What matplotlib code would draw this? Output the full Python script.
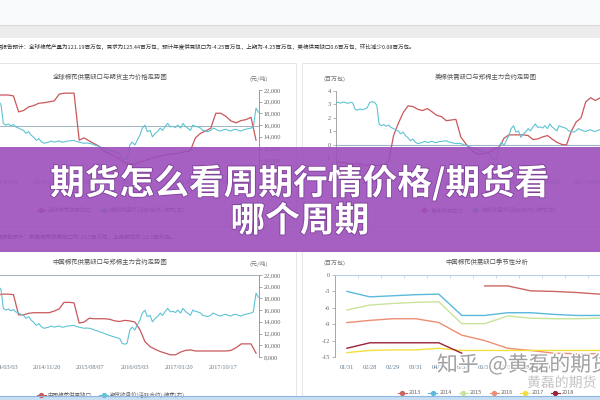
import matplotlib
matplotlib.use('Agg')
import matplotlib.pyplot as plt
import matplotlib.patheffects as pe
from matplotlib.patches import Rectangle
from matplotlib.lines import Line2D
from matplotlib.ticker import FuncFormatter
import numpy as np
import pandas as pd

plt.rcParams['font.family'] = ['Noto Sans CJK SC', 'DejaVu Sans']
plt.rcParams['axes.unicode_minus'] = False

# ---------------- datos ----------------
# precio del contrato activo (yuan/t), cada medio mes
price_dates = pd.date_range('2013-06-01', periods=120, freq='SMS')
price = [19950, 20050, 19900, 20100, 20000, 19850, 20050, 19950, 18800, 18700,
         18900, 18750, 18900, 19100, 20000, 20150, 20050, 19500, 16300, 16000,
         16200, 15900, 16100, 15700, 15500, 15300, 15100, 14600, 14900, 14300,
         13900, 13400, 13700, 13200, 12900, 13000, 13100, 13300, 13100, 13200,
         13300, 13100, 13100, 13250, 13300, 13350, 13400, 13200, 13100, 13000,
         12900, 12950, 12900, 12800, 12600, 12500, 12300, 12200, 12000, 11850,
         11700, 11550, 11400, 11300, 11100, 10300, 10200, 10300, 12600, 13100,
         12600, 13400, 14300, 15500, 16000, 14900, 15100, 14000, 14600, 14900,
         15500, 15100, 15800, 16300, 15700, 15800, 15600, 16000, 15500, 16300,
         15800, 15500, 15100, 16000, 15800, 15700, 15500, 15100, 15000, 14900,
         15100, 15500, 15300, 15100, 15000, 15200, 15300, 15100, 15000, 15200,
         15300, 15100, 15000, 15200, 15300, 15400, 15500, 15700, 18900, 18200]

# brechas mensuales de oferta/demanda (millones de pacas)
gap_dates = pd.date_range('2013-06-01', periods=60, freq='MS')
global_gap = [6.5, 6.6, 6.8, 6.9, 6.9, 6.9, 6.9, 6.9, 6.9, 6.9,
              6.9, 6.7, 3.2, 3.5, 4.3, 4.6, 5.1, 5.2, 5.4, 5.6,
              7.1, 7.3, 7.3, 7.3, -3.0, -2.5, -3.2, -3.8, -4.4, -5.5,
              -6.0, -6.5, -7.2, -8.0, -8.2, -8.3, -7.8, -7.5, -7.1, -6.8,
              -6.5, -6.3, -6.1, -6.0, -5.8, -5.5, -5.3, -2.5, -1.5, -1.0,
              -0.4, 2.9, 2.9, 2.2, 1.2, 0.8, 1.3, 1.5, 2.0, -3.0]
us_gap = [-1.2, -1.3, -1.3, -1.4, -1.4, -1.4, -1.5, -1.5, -1.5, -1.5,
          -1.5, -1.2, 0.7, 1.6, 2.4, 2.9, 2.85, 2.65, 2.55, 2.7,
          2.45, 2.2, 2.1, 1.8, 1.85, 1.9, 0.6, 0.1, -0.3, -0.6,
          -0.7, -0.6, -0.5, -0.3, -0.15, 0.5, 0.75, 0.75, 0.75, 0.75,
          0.7, 0.4, 0.45, 0.6, 0.7, 0.45, 0.2, 0.05, 0.0, 1.0,
          1.7, 2.0, 3.2, 3.5, 3.3, 3.5, 3.4, 3.3, 3.2, 3.1]
china_gap = [-2.0, -2.0, -3.0, -3.0, -3.2, -3.5, -3.7, -3.4, -3.6, -3.5,
             -3.5, -3.6, -7.3, -7.3, -7.0, -6.9, -6.9, -6.9, -6.9, -6.6,
             -6.2, -5.0, -5.0, -5.1, -8.8, -8.6, -7.9, -8.0, -8.0, -8.0,
             -8.1, -8.4, -8.5, -8.3, -8.4, -8.6, -10.0, -12.2, -13.1, -13.6,
             -14.0, -14.3, -14.6, -14.6, -14.1, -13.8, -13.7, -13.9, -13.9, -13.9,
             -13.9, -13.9, -13.9, -13.9, -13.8, -13.3, -12.6, -12.6, -12.6, -14.3]

left_ticks = ['2014-03-03', '2014-11-20', '2015-08-07', '2016-05-03', '2017-01-20', '2017-10-17']
right_ticks = ['2014-02-10', '2014-11-04', '2015-07-24', '2016-04-15', '2017-01-23', '2017-10-19']

# estacionalidad
season_labels = ['01/31', '02/28', '02/29', '03/31', '04/30', '05/31', '06/30',
                 '07/31', '08/31', '09/30', '10/31', '11/30', '12/31']
season_years = ['2013', '2014', '2015', '2016', '2017', '2018']
nan = np.nan
s2013 = [nan, nan, nan, nan, nan, nan, -2.0, -2.0, -2.9, -3.0, -3.2, -3.5, -3.7]
s2014 = [-3.0, -4.0, -3.8, -3.6, -3.5, -7.4, -7.4, -6.9, -6.9, -7.2, -7.4, -7.4, -7.4]
s2015 = [-6.4, -5.5, -5.2, -5.0, -4.9, -8.9, -8.9, -7.5, -7.9, -8.0, -8.0, -7.9, -7.9]
s2016 = [-8.7, -8.3, -8.0, -8.0, -8.7, -11.0, -12.0, -13.4, -13.8, -14.3, -14.4, -14.4, -14.4]
s2017 = [-14.2, -13.8, -13.7, -13.7, -13.4, -13.8, -13.8, -13.8, -13.8, -13.8, -13.8, -13.8, -13.8]
s2018 = [-13.4, -12.4, -12.4, -12.4, -12.4, -14.3, nan, nan, nan, nan, nan, nan, nan]
season_values = [s2013, s2014, s2015, s2016, s2017, s2018]
season_colors = ['#cc6660', '#5ab9dc', '#c9e39a', '#ec8e74', '#f3df3c', '#9b2238']

RED = '#c9585b'
CYAN = '#5fc3d3'
ZERO = '#9db5c2'
W, H = 600, 400


def box(x0, y0, x1, y1):
    return [x0 / W, 1 - y1 / H, (x1 - x0) / W, (y1 - y0) / H]


def fx(x):
    return x / W


def fy(y):
    return 1 - y / H


def rect(fig, x0, y0, x1, y1, fc, ec='none', lw=0, z=-5, alpha=1):
    fig.add_artist(Rectangle((fx(x0), fy(y1)), (x1 - x0) / W, (y1 - y0) / H,
                             transform=fig.transFigure, facecolor=fc, edgecolor=ec,
                             linewidth=lw, zorder=z, alpha=alpha))


def legend(fig, cx, cy, labels, colors):
    hs = [Line2D([], [], color=c, lw=0.8, marker='o', ms=2.8) for c in colors]
    fig.legend(hs, labels, loc='center', bbox_to_anchor=(fx(cx), fy(cy)), ncol=len(labels),
               frameon=False, fontsize=4, handlelength=1.6, handletextpad=0.4,
               columnspacing=1.3, labelcolor='#666666')


fig = plt.figure(figsize=(6, 4), dpi=100)
fig.patch.set_facecolor('white')

# franjas de la pagina y tarjetas
rect(fig, 0, 0, 600, 25, '#f8f9fb')
rect(fig, 0, 25, 600, 38, '#ececec')
fig.add_artist(Line2D([0, 1], [fy(25), fy(25)], color='#d9d6d0', lw=0.6, zorder=-4))
for x0, y0, x1, y1 in [(-2, 63, 296, 226), (302, 63, 603, 226), (-2, 250, 296, 396), (302, 250, 603, 396)]:
    rect(fig, x0, y0, x1, y1, 'white', ec='#e2e2e2', lw=0.6, z=-3)

fig.text(fx(-3), fy(47), '资报告预计：全球棉花产量为121.19百万包，需求为125.44百万包，预计年度供需缺口为-4.25百万包，'
         '上期为-4.25百万包，美棉供需缺口0.6百万包，环比减少0.08百万包。',
         fontsize=4.0, color='#333333', va='center')
fig.text(fx(-3), fy(236), '资报告预计：中国棉花供需缺口为-14.5百万包，上月预估为-12.5百万包。',
         fontsize=4.0, color='#333333', va='center')

xfmt = FuncFormatter(lambda v, p: f'{v:,.0f}')


def left_chart(y0, y1, gap, gap_lim, title, leg_label):
    ax = fig.add_axes(box(-42, y0, 259, y1))
    ax.patch.set_alpha(0)
    ax.plot(gap_dates, gap, color=RED, lw=0.9)
    ax.axhline(0, color=ZERO, lw=0.7, zorder=0)
    ax.set_ylim(*gap_lim)
    ax.set_yticks([])
    axr = ax.twinx()
    axr.plot(price_dates, price, color=CYAN, lw=0.8)
    axr.set_ylim(8000, 22000)
    axr.set_yticks(range(8000, 22001, 2000))
    axr.yaxis.set_major_formatter(xfmt)
    axr.tick_params(axis='y', labelsize=4.6, labelcolor='#666666', color='#888888',
                    length=2, width=0.5, pad=1.5, labelfontfamily='Liberation Serif')
    ax.set_xlim(pd.Timestamp('2013-06-01'), pd.Timestamp('2018-05-19'))
    td = pd.to_datetime(left_ticks)
    ax.set_xticks(td)
    ax.set_xticklabels([d.strftime('%Y/%m/%d') for d in td])
    ax.tick_params(axis='x', length=0, pad=5.5, labelsize=4.6, labelcolor='#6b7a8a',
                   labelfontfamily='Liberation Serif')
    for s in ax.spines.values():
        s.set_visible(False)
    for k, s in axr.spines.items():
        s.set_visible(k == 'right')
    axr.spines['right'].set_color('#8a8a8a')
    axr.spines['right'].set_linewidth(0.6)
    fig.text(fx(110), fy(y0 - 13), title, fontsize=4.6, color='#555555', ha='center', va='center')
    fig.text(fx(259), fy(y0 - 11), '(元/吨)', fontsize=4.3, color='#777777', ha='center', va='center')
    legend(fig, 111, y1 + 38, [leg_label, '期货收盘价(活跃合约):棉花(右)'], [RED, CYAN])


left_chart(90, 172, global_gap, (-10, 8), '全球棉花供需缺口与期货主力价格走势图', '全球棉花供需缺口')
left_chart(275, 357, china_gap, (-15, 0), '中国棉花供需缺口与郑棉主力合约走势图', '中国棉花供需缺口')

# --- arriba derecha ---
ax2 = fig.add_axes(box(336, 91, 640, 172))
ax2.patch.set_alpha(0)
ax2.plot(gap_dates, us_gap, color=RED, lw=0.9)
ax2.axhline(0, color=ZERO, lw=0.8, zorder=0)
ax2.set_ylim(-2, 4)
ax2.set_yticks(range(-2, 5))
ax2r = ax2.twinx()
ax2r.plot(price_dates, price, color=CYAN, lw=0.8)
ax2r.set_ylim(8000, 22000)
ax2r.set_yticks([])
ax2.set_xlim(pd.Timestamp('2013-06-01'), pd.Timestamp('2018-09-10'))
td = pd.to_datetime(right_ticks)
ax2.set_xticks(td)
ax2.set_xticklabels([d.strftime('%Y/%m/%d') for d in td])
ax2.tick_params(axis='x', length=0, pad=5.5, labelsize=4.6, labelcolor='#6b7a8a',
                labelfontfamily='Liberation Serif')
ax2.tick_params(axis='y', labelsize=4.6, labelcolor='#666666', color='#999999', length=2,
                width=0.5, pad=1.5, labelfontfamily='Liberation Serif')
for k, s in ax2.spines.items():
    s.set_visible(k == 'left')
ax2.spines['left'].set_color('#999999')
ax2.spines['left'].set_linewidth(0.6)
for s in ax2r.spines.values():
    s.set_visible(False)
fig.text(fx(486), fy(77), '美棉供需缺口与郑棉主力合约走势图', fontsize=4.6, color='#555555', ha='center', va='center')
fig.text(fx(335), fy(79), '(百万包)', fontsize=4.3, color='#777777', ha='center', va='center')
legend(fig, 488, 210, ['美棉供需缺口', '期货收盘价(活跃合约):棉花(右)'], [RED, CYAN])

# --- abajo derecha: estacionalidad ---
ax4 = fig.add_axes(box(335, 275, 634, 357))
ax4.patch.set_alpha(0)
xs = np.arange(len(season_labels))
for vals, c in zip(season_values, season_colors):
    ax4.plot(xs, vals, color=c, lw=1.0)
ax4.set_xlim(-0.52, 12.5)
ax4.set_ylim(-15, 0)
ax4.set_yticks(range(-15, 1, 3))
ax4.set_xticks(xs)
ax4.set_xticklabels(season_labels)
ax4.set_xticks(xs[:-1] + 0.5, minor=True)
ax4.tick_params(axis='x', which='major', length=0, pad=5.5, labelsize=4.6, labelcolor='#5f7d95',
                labelfontfamily='Liberation Serif')
ax4.tick_params(axis='x', which='minor', top=True, bottom=False, direction='in', length=2,
                color='#b8cde0', width=0.5)
ax4.tick_params(axis='y', labelsize=4.6, labelcolor='#666666', color='#999999', length=2,
                width=0.5, pad=1.5, labelfontfamily='Liberation Serif')
for k, s in ax4.spines.items():
    s.set_visible(k in ('left', 'top'))
ax4.spines['left'].set_color('#999999')
ax4.spines['left'].set_linewidth(0.6)
ax4.spines['top'].set_color('#b8d0e6')
ax4.spines['top'].set_linewidth(0.8)
fig.text(fx(487), fy(262), '中国棉花供需缺口季节性分析', fontsize=4.6, color='#555555', ha='center', va='center')
fig.text(fx(335), fy(263), '(百万包)', fontsize=4.3, color='#777777', ha='center', va='center')
legend(fig, 486, 393, season_years, season_colors)

# franja inferior azul
rect(fig, 0, 396, 600, 400, '#c8def3', z=5)
fig.add_artist(Line2D([0, 1], [fy(396), fy(396)], color='#8db7e0', lw=0.8, zorder=6))

# marca de agua
fig.text(fx(437), fy(365), '知乎  @黄磊的期货', fontsize=15, color='#a0a0a0', va='center', zorder=8,
         path_effects=[pe.withStroke(linewidth=2, foreground='white')])
fig.text(fx(527), fy(383), '黄磊的期货', fontsize=10, color='#c4c4c4', va='center', zorder=7,
         path_effects=[pe.withStroke(linewidth=1.5, foreground='white')])

# banner morado
rect(fig, 0, 147, 600, 252, '#9b4fbb', z=10, alpha=0.9)
banner_fx = [pe.withStroke(linewidth=1.2, foreground='#7d3f99')]
fig.text(0.5, fy(183), '期货怎么看周期行情价格/期货看', fontsize=25, color='white', fontweight='bold',
         ha='center', va='center', zorder=11, path_effects=banner_fx)
fig.text(0.5, fy(221), '哪个周期', fontsize=25, color='white', fontweight='bold',
         ha='center', va='center', zorder=11, path_effects=banner_fx)

fig.savefig('out.png', dpi=100)
